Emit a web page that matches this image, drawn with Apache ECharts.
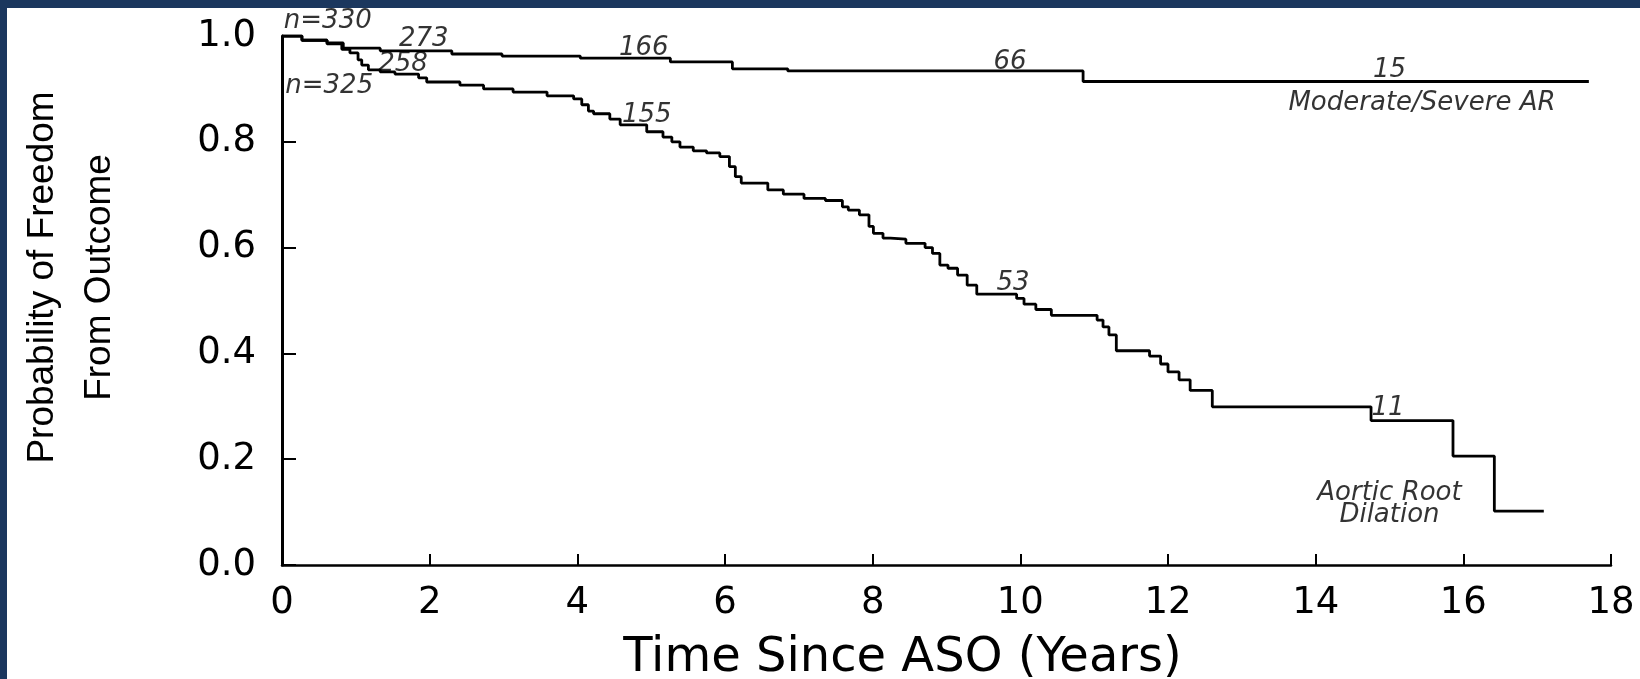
<!DOCTYPE html>
<html><head><meta charset="utf-8">
<script src="https://cdn.jsdelivr.net/npm/echarts@6/dist/echarts.min.js"></script>
<style>
html,body{margin:0;padding:0;background:#1b375e;width:1640px;height:679px;overflow:hidden}
#c{position:absolute;left:7px;top:8px;width:1633px;height:671px;background:#fff}
</style>
</head><body><div id="c"></div>
<script>
// ---- data ----
const xTickValues = [0, 2, 4, 6, 8, 10, 12, 14, 16, 18];
const yTickValues = [0.0, 0.2, 0.4, 0.6, 0.8, 1.0];

// Moderate/Severe AR (Kaplan-Meier steps: time, survival after the step)
const arTimes  = [0, 0.27, 0.61, 0.83, 1.33, 2.30, 2.98, 4.04, 5.26, 6.10, 6.85, 10.85, 17.70];
const arValues = [1.0, 0.992, 0.987, 0.977, 0.972, 0.966, 0.962, 0.958, 0.951, 0.938, 0.934, 0.914, 0.914];

// Aortic Root Dilation
const ardTimes  = [0, 0.27, 0.61, 0.81, 0.92, 1.03, 1.08, 1.17, 1.33, 1.53, 1.85, 1.96, 2.41, 2.73, 3.13, 3.59, 3.95, 4.06, 4.15, 4.22, 4.44, 4.58, 4.94, 5.16, 5.28, 5.39, 5.57, 5.75, 5.93, 6.06, 6.14, 6.22, 6.58, 6.79, 7.07, 7.36, 7.59, 7.67, 7.82, 7.95, 8.01, 8.14, 8.24, 8.45, 8.71, 8.81, 8.91, 9.02, 9.15, 9.28, 9.41, 9.95, 10.05, 10.21, 10.42, 11.04, 11.12, 11.20, 11.30, 11.75, 11.90, 12.00, 12.15, 12.30, 12.60, 14.75, 15.86, 16.42, 17.09];
const ardValues = [1.0, 0.992, 0.985, 0.975, 0.968, 0.955, 0.945, 0.936, 0.932, 0.928, 0.921, 0.913, 0.907, 0.900, 0.894, 0.887, 0.881, 0.870, 0.858, 0.853, 0.843, 0.832, 0.819, 0.809, 0.800, 0.790, 0.783, 0.779, 0.772, 0.753, 0.734, 0.722, 0.709, 0.701, 0.693, 0.689, 0.677, 0.671, 0.662, 0.640, 0.627, 0.618, 0.616, 0.608, 0.600, 0.589, 0.567, 0.561, 0.548, 0.529, 0.512, 0.504, 0.493, 0.483, 0.472, 0.463, 0.450, 0.435, 0.405, 0.395, 0.380, 0.365, 0.350, 0.330, 0.299, 0.273, 0.206, 0.102, 0.102];

// numbers at risk and curve labels (text, time, probability at text centre)
const noteTexts = ['n=330', '273', '166', '66', '15', 'n=325', '258', '155', '53', '11', 'Moderate/Severe AR', 'Aortic Root', 'Dilation'];
const noteTimes = [0.62, 1.92, 4.90, 9.86, 15.0, 0.64, 1.64, 4.94, 9.90, 14.98, 15.44, 15.0, 15.0];
const noteProbs = [1.028, 0.994, 0.976, 0.950, 0.936, 0.905, 0.947, 0.850, 0.533, 0.296, 0.872, 0.136, 0.094];

const xTitle = 'Time Since ASO (Years)';
const yTitle = 'Probability of Freedom\nFrom Outcome';

// ---- chart ----
const zip = (a, b) => a.map((v, i) => [v, b[i]]);
const chart = echarts.init(document.getElementById('c'));
const lineStyle = { color: '#000', width: 2.8 };
chart.setOption({
  backgroundColor: '#fff',
  animation: false,
  grid: { left: 275, top: 28, right: 29, bottom: 114, containLabel: false, outerBoundsMode: 'none' },
  xAxis: {
    type: 'value', min: 0, max: 18, interval: 2,
    name: xTitle, nameLocation: 'middle', nameGap: 68,
    nameTextStyle: { fontFamily: 'DejaVu Sans', fontSize: 48, color: '#000', lineHeight: 52, padding: [0, 88, 0, 0] },
    axisLine: { lineStyle: { color: '#000', width: 2.5 } },
    axisTick: { inside: true, length: 11, lineStyle: { color: '#000', width: 2 } },
    axisLabel: { fontFamily: 'DejaVu Sans', fontSize: 37, color: '#000', margin: 20, lineHeight: 37,
      formatter: v => xTickValues.includes(v) ? String(v) : '' },
    splitLine: { show: false }
  },
  yAxis: {
    type: 'value', min: 0, max: 1, interval: 0.2,
    name: yTitle, nameLocation: 'middle', nameRotate: 90, nameGap: 154,
    nameTextStyle: { fontFamily: 'Liberation Sans', fontSize: 37, color: '#000', lineHeight: 57, padding: [0, 0, 0, 46] },
    axisLine: { lineStyle: { color: '#000', width: 3 } },
    axisTick: { inside: true, length: 14, lineStyle: { color: '#000', width: 2 } },
    axisLabel: { fontFamily: 'DejaVu Sans', fontSize: 37, color: '#000', margin: 26, padding: [16, 0, 0, 0],
      formatter: v => yTickValues.some(t => Math.abs(t - v) < 1e-9) ? v.toFixed(1) : '' },
    splitLine: { show: false }
  },
  series: [
    { name: 'Moderate/Severe AR', type: 'line', step: 'end', showSymbol: false, silent: true,
      lineStyle, data: zip(arTimes, arValues) },
    { name: 'Aortic Root Dilation', type: 'line', step: 'end', showSymbol: false, silent: true,
      lineStyle, data: zip(ardTimes, ardValues) },
    { name: 'notes', type: 'scatter', symbolSize: 0, silent: true, clip: false,
      data: noteTexts.map((t, i) => [noteTimes[i], noteProbs[i], t]),
      label: { show: true, position: 'inside', formatter: p => p.value[2],
        fontFamily: 'DejaVu Sans', fontStyle: 'italic', fontSize: 26, color: '#000' } }
  ]
});
</script>
</body></html>
